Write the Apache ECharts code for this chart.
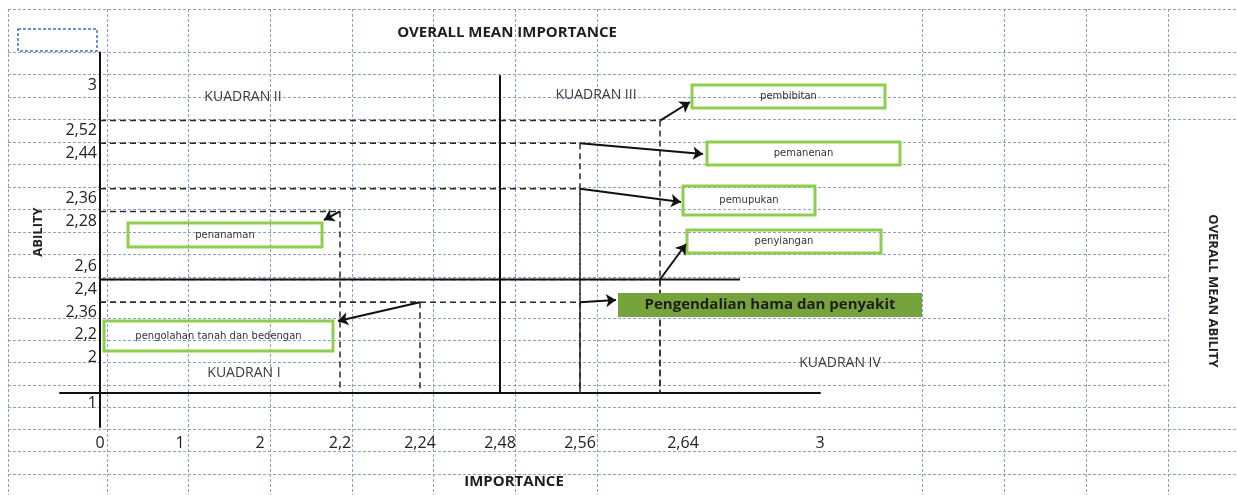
<!DOCTYPE html>
<html>
<head>
<meta charset="utf-8">
<script src="https://cdn.jsdelivr.net/npm/echarts@6/dist/echarts.min.js"></script>
<style>
html,body{margin:0;padding:0;background:#ffffff;}
#chart{width:1237px;height:495px;}
</style>
</head>
<body>
<div id="chart"></div>
<script>
// ---------------- DATA ----------------
const attributes = ['pembibitan', 'pemanenan', 'pemupukan', 'penyiangan', 'penanaman',
                    'pengolahan tanah dan bedengan', 'Pengendalian hama dan penyakit'];
const importance = [2.64, 2.56, 2.56, 2.64, 2.2, 2.24, 2.56];
const ability = [2.52, 2.44, 2.36, 2.4, 2.28, 2.36, 2.36];
// which half of the (split) ability scale the value is read on
const abilityHalf = ['upper', 'upper', 'upper', 'lower', 'upper', 'lower', 'lower'];

// tick labels as they appear along the axes ('' = empty cell)
const importanceTickLabels = ['0', '1', '2', '2,2', '2,24', '2,48', '2,56', '2,64', '', '3'];
// ability labels from the bottom (x axis) upward
const abilityTickLabels = ['1', '', '2', '2,2', '2,36', '2,4', '2,6', '', '2,28', '2,36', '', '2,44', '2,52', '', '3'];

const meanImportance = 2.48;
const meanAbility = 2.4;
const quadrantNames = ['KUADRAN I', 'KUADRAN II', 'KUADRAN III', 'KUADRAN IV'];
const titleTop = 'OVERALL MEAN IMPORTANCE';
const titleBottom = 'IMPORTANCE';
const titleLeft = 'ABILITY';
const titleRight = 'OVERALL MEAN ABILITY';

// ---------------- helpers ----------------
const fmt = v => String(v).replace('.', ',');
const xSlot = v => importanceTickLabels.indexOf(fmt(v));
function ySlot(v, half) {
  const lab = fmt(v);
  const from = half === 'upper' ? 5 : 0, to = half === 'upper' ? abilityTickLabels.length - 1 : 5;
  for (let i = from; i <= to; i++) if (abilityTickLabels[i] === lab) return i;
  return -1;
}

// ---------------- layout / styles (not data) ----------------
const FONT = 'Open Sans';
const INK = '#1e1e1e';
const SHEET = {color: '#8c9ecb', width: 1, type: [3, 2]};
// annotation boxes: x, y, w, h and where the arrow head lands
const boxLayout = [
  {x: 692, y: 85,  w: 193, h: 23, head: [690, 102]},
  {x: 707, y: 142, w: 193, h: 23, head: [703, 154]},
  {x: 683, y: 186, w: 132, h: 29, head: [681, 202]},
  {x: 687, y: 230, w: 194, h: 23, head: [686, 244]},
  {x: 128, y: 223, w: 194, h: 24, head: [324, 220]},
  {x: 104, y: 321, w: 229, h: 30, head: [338, 321]},
  {x: 618, y: 293, w: 304, h: 24, head: [616, 300], filled: true}
];
const quadrantPos = [[244, 373], [243, 97], [596, 95], [840, 363]];

// ---------------- spreadsheet background grids ----------------
const grids = [
  {left: 60, right: 417, top: 52.5, bottom: 68},            // 0: quadrant chart
  {left: 8, top: 9, width: 99, height: 486},                // 1: first column lines
  {left: 107, top: 9, width: 490, height: 486},             // 2: columns B..G
  {left: 922, top: 9, width: 246, height: 486},             // 3: columns L..N
  {left: 8, right: 0, top: 9, height: 43},                  // 4: title row
  {left: 8, right: 0, top: 52, height: 225},                // 5: rows
  {left: 8, right: 0, top: 318, height: 156}                // 6: rows
].map(g => Object.assign({show: false, containLabel: false, outerBoundsMode: 'none'}, g));

const hidden = gi => ({type: 'value', gridIndex: gi, show: false, min: 0, max: 1});
const lines = (gi, max) => ({
  type: 'value', gridIndex: gi, min: 0, max: max, interval: 1, silent: true,
  axisLine: {show: false}, axisTick: {show: false}, axisLabel: {show: false},
  splitLine: {show: true, lineStyle: SHEET}
});

const xAxes = [
  {
    type: 'value', gridIndex: 0, min: -0.5, max: 9, interval: 0.5, silent: true,
    axisLine: {show: true, onZero: true, lineStyle: {color: '#111', width: 2}},
    axisTick: {show: false}, splitLine: {show: false},
    axisLabel: {
      show: true, margin: 8, fontSize: 16, fontFamily: FONT, color: '#222',
      showMinLabel: true, showMaxLabel: true,
      formatter: v => {
        if (!Number.isInteger(v) || v < 0) return '';
        const lab = importanceTickLabels[v] || '';
        return v === 7 ? '{sh|' + lab + '}' : lab;
      },
      rich: {sh: {padding: [0, 0, 0, 46], fontSize: 16, fontFamily: FONT, color: '#222'}}
    }
  },
  lines(1, 1), lines(2, 6), lines(3, 3), hidden(4), hidden(5), hidden(6)
];
const yAxes = [
  {
    type: 'value', gridIndex: 0, min: -1.5, max: 15, interval: 0.5, silent: true,
    axisLine: {show: true, onZero: true, lineStyle: {color: '#111', width: 2}},
    axisTick: {show: false}, splitLine: {show: false},
    axisLabel: {
      show: true, margin: -37, fontSize: 16, fontFamily: FONT, color: '#222', align: 'right',
      verticalAlign: 'top', lineHeight: 20, showMinLabel: true, showMaxLabel: true,
      formatter: v => (Number.isInteger(v) && v >= 0) ? (abilityTickLabels[v] || '') : ''
    }
  },
  hidden(1), hidden(2), hidden(3), lines(4, 1), lines(5, 10), lines(6, 7)
];

// ---------------- series ----------------
const series = [];
attributes.forEach((name, i) => {
  const xs = xSlot(importance[i]);
  const ys = ySlot(ability[i], abilityHalf[i]);
  const b = boxLayout[i];
  series.push({
    name: name, type: 'line', xAxisIndex: 0, yAxisIndex: 0, z: 2,
    data: [[0, ys], [xs, ys], [xs, 0]],
    symbol: 'none', silent: true, animation: false,
    lineStyle: {color: '#2a2a2a', width: 1.5, type: [6, 4]},
    markLine: {
      silent: true, animation: false, symbol: ['none', 'arrow'], symbolSize: 10,
      label: {show: false}, emphasis: {disabled: true},
      lineStyle: {color: '#111', width: 2, type: 'solid'},
      data: [[{coord: [xs, ys]}, {x: b.head[0], y: b.head[1]}]]
    }
  });
});
// quadrant dividers
const mx = xSlot(meanImportance), my = ySlot(meanAbility, 'lower');
const topSlot = abilityTickLabels.length - 1;
const rightSlot = importanceTickLabels.length - 2;
series.push({
  type: 'line', xAxisIndex: 0, yAxisIndex: 0, z: 3, symbol: 'none', silent: true, animation: false,
  data: [[mx, 0], [mx, topSlot]], lineStyle: {color: '#111', width: 2, type: 'solid'}
});
series.push({
  type: 'line', xAxisIndex: 0, yAxisIndex: 0, z: 3, symbol: 'none', silent: true, animation: false,
  data: [[0, my], [rightSlot, my]], lineStyle: {color: '#111', width: 2, type: 'solid'}
});

// ---------------- graphic (boxes, titles) ----------------
const graphic = [];
graphic.push({type: 'rect', z: 1, silent: true, shape: {x: 1169, y: 126, width: 68, height: 272}, style: {fill: '#ffffff'}});
graphic.push({type: 'rect', z: 5, silent: true, shape: {x: 18, y: 29, width: 79, height: 22},
  style: {fill: 'none', stroke: '#4a6cc0', lineWidth: 1.5, lineDash: [3, 2]}});
function txt(s, x, y, size, weight, color, rot, family) {
  return {type: 'text', z: 6, silent: true, x: x, y: y, rotation: rot || 0,
    style: {text: s, fontSize: size, fontWeight: weight, fontFamily: family || FONT, fill: color,
            align: 'center', verticalAlign: 'middle'}};
}
graphic.push(txt(titleTop, 507, 33, 15, 'bold', INK));
graphic.push(txt(titleBottom, 514, 482, 15, 'bold', INK));
graphic.push(txt(titleLeft, 38, 232, 13, 'bold', INK, Math.PI / 2));
graphic.push(txt(titleRight, 1213, 291, 13, 'bold', INK, -Math.PI / 2));
quadrantNames.forEach((q, i) => graphic.push(txt(q, quadrantPos[i][0], quadrantPos[i][1], 14, 'normal', '#3c3c3c')));
attributes.forEach((name, i) => {
  const b = boxLayout[i];
  graphic.push({type: 'rect', z: 5, silent: true, shape: {x: b.x, y: b.y, width: b.w, height: b.h},
    style: b.filled ? {fill: '#76a33c'} : {fill: 'none', stroke: '#8dcf4c', lineWidth: 3}});
  graphic.push(b.filled
    ? txt(name, b.x + b.w / 2, b.y + b.h / 2, 15, 'bold', INK)
    : txt(name, b.x + b.w / 2, b.y + b.h / 2, 10, 'normal', '#333', 0, 'DejaVu Sans'));
});

const chart = echarts.init(document.getElementById('chart'), null, {renderer: 'canvas'});
chart.setOption({
  animation: false,
  backgroundColor: '#ffffff',
  textStyle: {fontFamily: FONT},
  grid: grids,
  xAxis: xAxes,
  yAxis: yAxes,
  series: series,
  graphic: {elements: graphic}
});
</script>
</body>
</html>
